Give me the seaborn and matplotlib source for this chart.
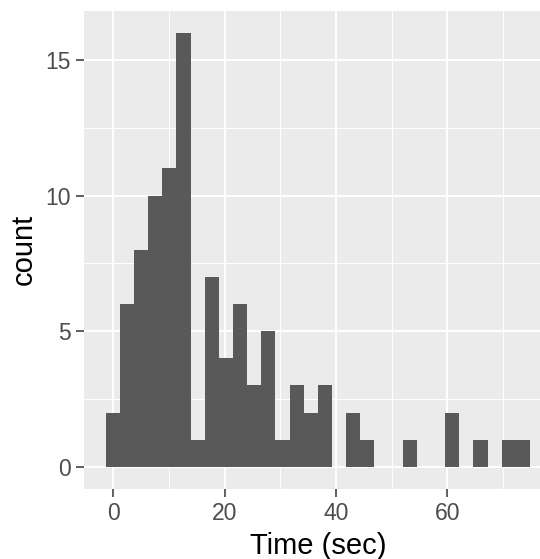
import numpy as np
import pandas as pd
import seaborn as sns
import matplotlib
matplotlib.use("Agg")
import matplotlib.pyplot as plt
from matplotlib.ticker import MultipleLocator

# =========================
# DATA (30 bins)
# =========================
counts = [2, 6, 8, 10, 11, 16, 1, 7, 4, 6, 3, 5, 1, 3, 2,
          3, 0, 2, 1, 0, 0, 1, 0, 0, 2, 0, 1, 0, 1, 1]
bin_width = 2.54
first_edge = -1.35
x_ticks = [0, 20, 40, 60]
y_ticks = [0, 5, 10, 15]

mids = first_edge + bin_width * (np.arange(len(counts)) + 0.5)
df = pd.DataFrame({"time": mids, "count": counts})
last_edge = first_edge + bin_width * len(counts)

# =========================
# STYLE (ggplot grey look)
# =========================
sns.set_theme(style="darkgrid", rc={
    "axes.facecolor": "#EBEBEB",
    "grid.color": "white",
})
plt.rcParams["font.family"] = ["Liberation Sans", "DejaVu Sans"]

fig = plt.figure(figsize=(5.4, 5.59), dpi=100)
ax = fig.add_axes([0.1563, 0.1261, 0.8646, 0.8542])

sns.histplot(data=df, x="time", weights="count",
             binwidth=bin_width, binrange=(first_edge, last_edge),
             color="#595959", alpha=1, linewidth=0, ax=ax)

span = last_edge - first_edge
ax.set_xlim(first_edge - 0.05 * span, last_edge + 0.05 * span)
ax.set_ylim(-0.8, 16.8)

ax.set_xticks(x_ticks)
ax.set_yticks(y_ticks)
ax.xaxis.set_minor_locator(MultipleLocator(10))
ax.yaxis.set_minor_locator(MultipleLocator(2.5))
ax.grid(which="major", color="white", linewidth=1.4)
ax.grid(which="minor", color="white", linewidth=0.7)
ax.set_axisbelow(True)

for s in ax.spines.values():
    s.set_visible(False)

ax.tick_params(which="major", length=6, width=1.1, color="#333333",
               labelsize=16.5, labelcolor="#4D4D4D", pad=4,
               bottom=True, left=True)
ax.tick_params(which="minor", length=0)

ax.set_xlabel("Time (sec)", fontsize=21, color="black", labelpad=5)
ax.set_ylabel("count", fontsize=21, color="black", labelpad=5)

fig.savefig("out.png", dpi=100)
